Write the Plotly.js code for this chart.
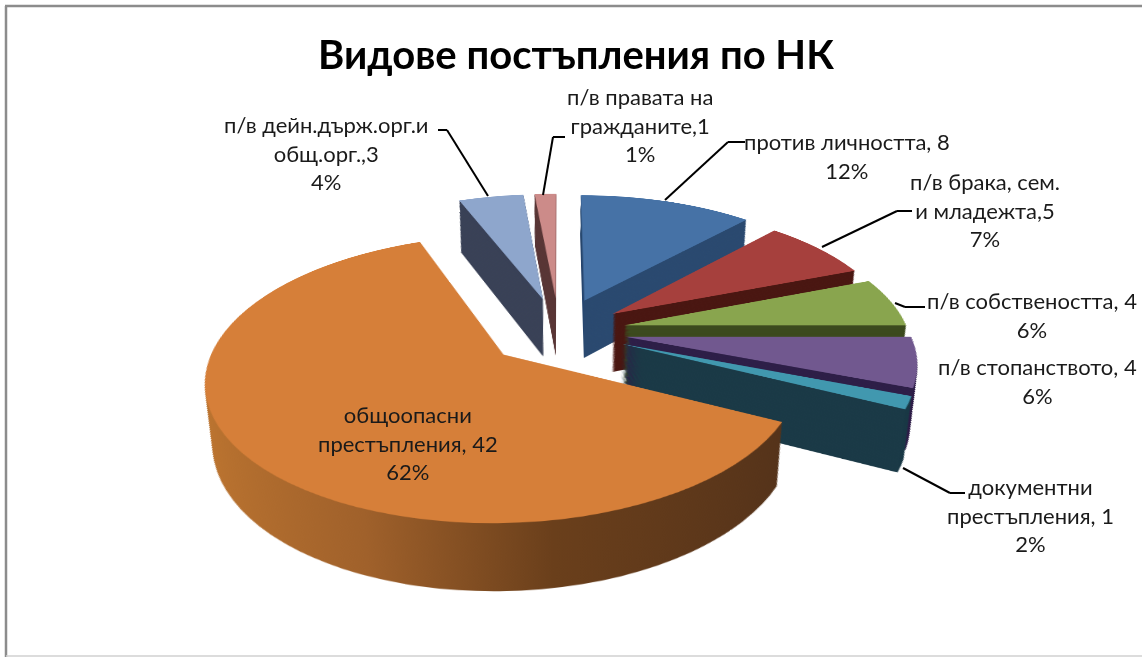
<!DOCTYPE html>
<html>
<head>
<meta charset="utf-8">
<script src="https://cdn.plot.ly/plotly-3.0.1.min.js"></script>
<style>
html,body{margin:0;padding:0;background:#fff;overflow:hidden;width:1142px;height:657px}
#wrap{position:absolute;left:0;top:0;width:1142px;height:657px;overflow:hidden}
#pie{position:absolute;left:59px;top:-69px;width:1000px;height:1000px;
 transform-origin:500px 400px;transform:perspective(1520px) rotateX(62.3deg)}
#top{position:absolute;left:0;top:0;width:1142px;height:657px}
</style>
</head>
<body>
<div id="wrap"><div id="pie"></div><div id="top"></div></div>
<script>
const categories=['против личността','п/в брака, сем. и младежта','п/в собствеността','п/в стопанството','документни престъпления','общоопасни престъпления','п/в дейн.държ.орг.и общ.орг.','п/в правата на гражданите'];
const values=[8,5,4,4,1,42,3,1];
const topColors=['#4672a6','#a6403d','#89a54e','#71588f','#4198af','#d67f39','#8ea6cc','#cc8b89'];
const wallColors=['#2b4a70','#4a1712','#3c4a1e','#2e1f48','#1b3a47','#7a4a20','#3a4257','#5a3838'];
const pulls=[0.257,0.235,0.235,0.235,0.235,0.257,0.257,0.257];
const labelTexts=['п/в правата на<br>гражданите,1<br>1%','против личността, 8<br>12%','п/в брака, сем.<br>и младежта,5<br>7%','п/в собствеността, 4<br>6%','п/в стопанството, 4<br>6%','документни<br>престъпления, 1<br>2%','общоопасни<br>престъпления, 42<br>62%','п/в дейн.държ.орг.и<br>общ.орг.,3<br>4%'];
const labelX=[640,847,985,1032,1037,1030,408,326];
const labelY=[125,156,210,315,381,515,443,153];
const leaderPaths=['M438,130 L447,130 L488,196','M565,137 L553,137 L543,195','M745,142 L728,142 L665,200','M822,247 L897,211 L912,211','M895,303 L905,307 L925,307','M903,468 L950,493 L965,493'];

const S=1000, CX=500, CY=400, R=284, PULL=Math.max(...pulls);
const FOOT=1345, K_MIN=0.912, LAYERS=66;
function pieTrace(k,colors){
  const half=R*(1+PULL)*k, cy=CY+(1-k)*FOOT;
  return {type:'pie',values:values,labels:categories,sort:false,direction:'clockwise',rotation:0,
    pull:pulls,textinfo:'none',hoverinfo:'skip',showlegend:false,
    marker:{colors:colors,line:{width:0}},
    domain:{x:[(CX-half)/S,(CX+half)/S],y:[1-(cy+half)/S,1-(cy-half)/S]}};
}
const pieData=[];
for(let i=0;i<LAYERS;i++){
  pieData.push(pieTrace(K_MIN+(1-K_MIN)*i/LAYERS,wallColors));
}
pieData.push(pieTrace(1,topColors));

Plotly.newPlot('pie',pieData,{width:S,height:S,margin:{l:0,r:0,t:0,b:0},
  paper_bgcolor:'rgba(0,0,0,0)',plot_bgcolor:'rgba(0,0,0,0)',showlegend:false},{staticPlot:true}).then(gd=>{
  const svg=gd.querySelector('.main-svg');
  const NS='http://www.w3.org/2000/svg';
  const grad=document.createElementNS(NS,'linearGradient');
  grad.setAttribute('id','orangeWall');
  [[0,'#bd7530'],[0.33,'#a0612b'],[0.62,'#6a3f1b'],[1,'#55331a']].forEach(s=>{
    const st=document.createElementNS(NS,'stop');
    st.setAttribute('offset',s[0]);st.setAttribute('stop-color',s[1]);grad.appendChild(st);
  });
  const defs=document.createElementNS(NS,'defs');defs.appendChild(grad);svg.appendChild(defs);
  const traces=gd.querySelectorAll('.pielayer .trace');
  traces.forEach((t,i)=>{
    if(i>=LAYERS)return;
    const sl=t.querySelectorAll('.slice path.surface');
    if(sl[5])sl[5].style.fill='url(#orangeWall)';
  });
});

const shapes=[
 {type:'line',xref:'paper',yref:'paper',x0:6/1142,x1:6/1142,y0:1-6/657,y1:0,line:{color:'#8c8c8c',width:2.5}},
 {type:'line',xref:'paper',yref:'paper',x0:5/1142,x1:1,y0:1-6/657,y1:1-6/657,line:{color:'#8c8c8c',width:2.5}},
 {type:'line',xref:'paper',yref:'paper',x0:6/1142,x1:1,y0:1-656/657,y1:1-656/657,line:{color:'#d0d0d0',width:1.5}}
];
leaderPaths.forEach(p=>{
  const pts=p.replace(/[ML]/g,'').trim().split(/\s+/).map(s=>s.split(',').map(Number));
  for(let i=0;i<pts.length-1;i++){
    shapes.push({type:'line',xref:'paper',yref:'paper',x0:pts[i][0]/1142,x1:pts[i+1][0]/1142,
      y0:1-pts[i][1]/657,y1:1-pts[i+1][1]/657,line:{color:'#000',width:2}});
  }
});
const annotations=labelTexts.map((t,i)=>({text:t,xref:'paper',yref:'paper',x:labelX[i]/1142,y:1-labelY[i]/657,
  xanchor:'center',yanchor:'middle',align:'center',showarrow:false,font:{family:'Lato, "Noto Sans", sans-serif',size:22,color:'#1a1a1a'}}));
Plotly.newPlot('top',[],{width:1142,height:657,margin:{l:0,r:0,t:0,b:0},
  paper_bgcolor:'rgba(0,0,0,0)',plot_bgcolor:'rgba(0,0,0,0)',
  xaxis:{visible:false},yaxis:{visible:false},
  title:{text:'Видове постъпления по НК',x:576/1142,xanchor:'center',y:1-55/657,yanchor:'middle',font:{family:'Lato, "Noto Sans", sans-serif',size:40,color:'#000',weight:700}},
  shapes:shapes,annotations:annotations},{staticPlot:true});
</script>
</body>
</html>
